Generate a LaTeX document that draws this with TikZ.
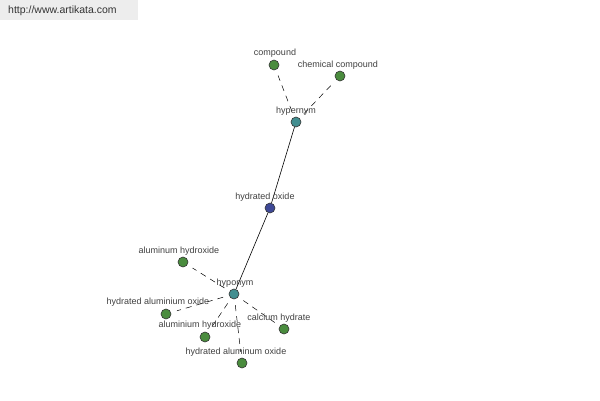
\documentclass[tikz,border=0pt]{standalone}
\usepackage{fontspec}
\setmainfont{Liberation Sans}
\begin{document}
\begin{tikzpicture}[x=1pt,y=-1pt,
  dot/.style={circle,draw=black!80,line width=0.6pt,minimum size=10pt,inner sep=0pt},
  gdot/.style={dot,fill={rgb,255:red,74;green,140;blue,62}},
  tdot/.style={dot,fill={rgb,255:red,66;green,142;blue,144}},
  ndot/.style={dot,fill={rgb,255:red,62;green,72;blue,150}},
  lbl/.style={font=\fontsize{9}{10}\selectfont,text=black!75,inner sep=0pt},
  dline/.style={dashed,dash pattern=on 6pt off 5pt,line width=0.5pt,shorten <=6pt,shorten >=6pt},
  sline/.style={line width=0.6pt}]
\useasboundingbox (0,0) rectangle (600,400);
\fill[black!7] (0,0) rectangle (138,20);
\node[anchor=west,inner sep=0pt,font=\fontsize{10.5}{11}\selectfont,text=black!80] (wm) at (8,11) {http://www.artikata.com};

\node[tdot] (hyper) at (296,122) {};
\node[gdot] (comp) at (274,65) {};
\node[gdot] (chem) at (340,76) {};
\node[ndot] (hox) at (270,208) {};
\node[tdot] (hypo) at (234,294) {};
\node[gdot] (alh) at (183,262) {};
\node[gdot] (hao) at (166,314) {};
\node[gdot] (aih) at (205,337) {};
\node[gdot] (cah) at (284,329) {};
\node[gdot] (haox) at (242,363) {};

\draw[sline] (hyper) -- (hox);
\draw[sline] (hox) -- (hypo);
\draw[dline] (hyper) -- (comp);
\draw[dline] (hyper) -- (chem);
\draw[dline] (hypo) -- (alh);
\draw[dline] (hypo) -- (hao);
\draw[dline] (hypo) -- (aih);
\draw[dline] (hypo) -- (cah);
\draw[dline] (hypo) -- (haox);

\node[lbl] (lhyper) at (296,111.5) {hypernym};
\node[lbl] (lcomp) at (275,53.5) {compound};
\node[lbl] (lchem) at (338,65.5) {chemical compound};
\node[lbl] (lhox) at (265,197.5) {hydrated oxide};
\node[lbl] (lhypo) at (235,283.5) {hyponym};
\node[lbl] (lalh) at (179,251.5) {aluminum hydroxide};
\node[lbl] (lhao) at (158,302.5) {hydrated aluminium oxide};
\node[lbl] (laih) at (200,325.5) {aluminium hydroxide};
\node[lbl] (lcah) at (279,318.5) {calcium hydrate};
\node[lbl] (lhaox) at (236,352.5) {hydrated aluminum oxide};
\end{tikzpicture}
\end{document}
